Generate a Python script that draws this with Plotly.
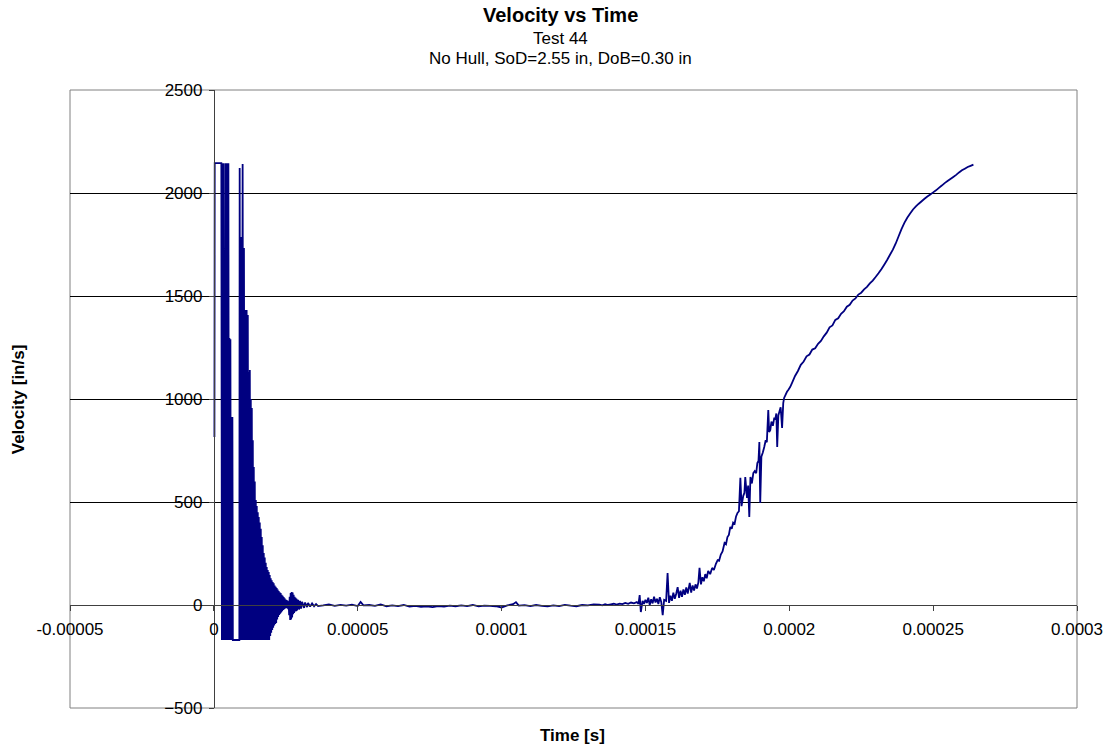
import plotly.graph_objects as go

# --- data (time in microseconds, velocity in in/s) ---
start_t_us = [0.2, 0.3, 2.6]
start_vel = [815, 2145, 2145]

# ringing: local peaks and troughs of the saturated / decaying signal
peak_t_us = [2.98, 3.32, 3.67, 4.02, 4.36, 4.71, 5.05, 5.4, 5.75, 6.09, 6.44,
             8.97, 9.49, 10.0, 10.46, 10.94, 11.39, 11.8, 12.15, 12.5, 12.84,
             13.19, 13.54, 13.88, 14.23, 14.58, 14.92, 15.27, 15.61, 15.96, 16.31,
             16.65, 17.0, 17.34, 17.69, 18.04, 18.38, 18.73, 19.08, 19.42, 19.77,
             20.11, 20.46, 20.81, 21.15, 21.5, 21.85, 22.19, 22.54, 22.88, 23.23,
             23.58, 23.92, 24.27, 24.61, 24.96, 25.31, 25.65, 26.0, 26.35, 26.69,
             27.04, 27.38, 27.73, 28.08, 28.42, 28.77, 29.29, 29.98, 30.67, 31.71,
             32.75, 34.14, 35.52]
peak_vel = [2145, 2145, 1700, 2145, 2145, 2145, 2145, 1296, 1290, 913, 913,
            2121, 1786, 2141, 1733, 1432, 1432, 1408, 1131, 1141, 1000,
            956, 800, 670, 600, 510, 480, 450, 427, 400, 370,
            330, 290, 252, 230, 205, 185, 170, 160, 145, 130,
            120, 112, 105, 95, 88, 83, 75, 68, 62, 58,
            50, 45, 39, 32, 27, 24, 20, 15, 40, 58,
            63, 60, 50, 40, 35, 30, 25, 20, 15, 12,
            10, 8, 5]

trough_t_us = [2.8, 3.15, 3.5, 3.84, 4.19, 4.54, 4.88, 5.23, 5.57, 5.92, 6.27, 6.6,
               8.86, 9.21, 9.73, 10.25, 10.7, 11.15, 11.63, 11.98, 12.32, 12.67,
               13.02, 13.36, 13.71, 14.06, 14.4, 14.75, 15.09, 15.44, 15.79, 16.13,
               16.48, 16.83, 17.17, 17.52, 17.86, 18.21, 18.56, 18.9, 19.25, 19.6,
               19.94, 20.29, 20.63, 20.98, 21.33, 21.67, 22.02, 22.36, 22.71, 23.06,
               23.4, 23.75, 24.1, 24.44, 24.79, 25.13, 25.48, 25.83, 26.17, 26.52,
               26.86, 27.21, 27.56, 27.9, 28.25, 28.6, 28.94, 29.63, 30.33, 31.37,
               32.4, 33.44, 34.83, 36.21]
trough_vel = [-170, -170, -170, -170, -170, -170, -170, -170, -170, -170, -170, -170,
              -170, -170, -170, -170, -170, -170, -170, -170, -170, -170,
              -170, -170, -170, -170, -170, -170, -170, -170, -170, -170,
              -170, -170, -170, -170, -170, -170, -170, -170, -170, -150,
              -135, -121, -110, -100, -92, -87, -70, -58, -49, -42,
              -36, -30, -24, -20, -17, -15, -15, -20, -50, -73,
              -70, -60, -45, -39, -32, -30, -26, -22, -18, -14,
              -10, -8, -6, -5]

# quiet stretch
quiet_t_us = [38, 40, 42, 44, 46, 48, 50, 51, 52, 54, 56, 58, 60, 62, 64, 66, 68,
              70, 72, 74, 76, 78, 80, 82, 84, 86, 88, 90, 92, 94, 96, 98, 100, 102,
              104, 105, 106, 108, 110, 112, 114, 116, 118, 120, 122, 124, 126, 128,
              130, 132]
quiet_vel = [-2, 3, -4, 1, -3, 2, -5, 15, -2, 0, -4, 3, -6, -2, -5, 0, -8,
             -4, -9, -6, -10, -5, -8, -3, -6, -2, -5, 0, -7, -3, -4, -6, -12, -2,
             4, 14, -3, -1, -5, 0, -4, -7, -2, -5, 1, -3, -6, 0,
             -2, 3]

# noisy start of the acceleration phase
noisy_t_us = [134, 135, 136, 137, 138, 139, 140, 141, 142, 143, 144, 145, 146, 147,
              147.6, 148, 148.4, 149, 149.5, 150, 150.5, 151, 151.5, 152, 152.5,
              153, 153.5, 154, 154.5, 155, 155.5, 156, 156.5, 157.2, 157.7, 158.2,
              158.7, 159.2, 159.7, 160.2, 160.7, 161.2, 161.7, 162.2, 162.7, 163.2,
              163.7, 164.2, 164.7, 165.4, 165.9, 166.4, 166.9, 167.4, 167.9, 168.4,
              168.8, 169.3, 169.8, 170.3, 170.8, 171.3, 171.8, 172.5, 173.2, 173.8,
              174.5, 175.1, 175.6, 176.2, 176.8, 177.5, 178, 178.5, 179, 179.5,
              180, 180.5, 181, 181.5, 182, 182.5, 183, 183.4, 184, 184.4, 184.7,
              185.3, 185.7, 186.1, 186.5, 187, 187.5, 188, 188.5, 188.9, 189.3,
              189.6, 189.9, 190.3, 190.8, 191.3, 191.8, 192.2, 192.7, 193, 193.4,
              193.8, 194.3, 194.8, 195.1, 195.5, 195.8, 196.2, 196.6, 197, 197.5,
              197.9, 198.2, 198.7, 199.2, 199.7]
noisy_vel = [2, -2, 4, 0, 3, 6, 2, 7, 4, 10, 6, 12, 8, 14,
             5, 48, -34, 20, 5, 25, 10, 35, 0, 28, 8,
             40, 12, 30, 5, 38, 15, -49, 25, 20, 155, 10,
             45, 20, 60, 30, 55, 87, 35, 70, 40, 75,
             50, 85, 55, 107, 60, 95, 70, 100, 80, 110,
             180, 100, 135, 115, 150, 130, 165, 150, 180, 170,
             200, 218, 215, 245, 260, 301, 295, 330, 340, 379,
             370, 400, 395, 430, 447, 455, 617, 480, 530, 544, 621,
             520, 580, 427, 621, 590, 640, 650, 640, 689, 700,
             791, 495, 720, 740, 767, 800, 790, 947, 840, 850,
             890, 870, 910, 900, 930, 767, 920, 940, 960, 859,
             980, 1005, 1020, 1035, 1045]

# smoother late acceleration
smooth_t_us = [200.3, 201, 202, 203, 204, 205, 206, 207, 208, 209, 210, 211, 212,
               213, 214, 215, 216, 217, 218, 219, 220, 221, 222, 223, 224, 225,
               226, 227, 228, 229, 230, 231, 232, 233, 234, 235, 236, 237, 238,
               239, 240, 241, 242, 243, 244, 245, 246, 247, 248, 249, 250, 251,
               252, 253, 254, 255, 256, 257, 258, 259, 260, 261, 262, 263, 264]
smooth_vel = [1058, 1080, 1112, 1136, 1166, 1182, 1207, 1216, 1240, 1246, 1268, 1282,
              1304, 1322, 1348, 1357, 1384, 1392, 1414, 1426, 1448, 1457, 1478, 1488,
              1507, 1516, 1532, 1544, 1561, 1575, 1592, 1610, 1630, 1652, 1675, 1700,
              1725, 1755, 1790, 1825, 1855, 1880, 1900, 1920, 1935, 1948, 1960, 1972,
              1983, 1993, 2003, 2013, 2025, 2036, 2048, 2058, 2068, 2078, 2088, 2100,
              2110, 2118, 2126, 2132, 2138]

x_tickvals = [-0.00005, 0, 0.00005, 0.0001, 0.00015, 0.0002, 0.00025, 0.0003]
x_ticktext = ["-0.00005", "0", "0.00005", "0.0001", "0.00015", "0.0002", "0.00025", "0.0003"]
y_tickvals = [-500, 0, 500, 1000, 1500, 2000, 2500]

# merge all pieces into one time-ordered series
pairs = (list(zip(start_t_us, start_vel)) + list(zip(peak_t_us, peak_vel))
         + list(zip(trough_t_us, trough_vel)) + list(zip(quiet_t_us, quiet_vel))
         + list(zip(noisy_t_us, noisy_vel)) + list(zip(smooth_t_us, smooth_vel)))
pairs.sort(key=lambda p: p[0])
time_s = [p[0] * 1e-6 for p in pairs]
velocity = [p[1] for p in pairs]

FONT = "Arial, Liberation Sans, sans-serif"
NAVY = "#000080"

fig = go.Figure()
fig.add_trace(go.Scatter(
    x=time_s, y=velocity, mode="lines",
    line=dict(color=NAVY, width=1.8, simplify=False),
    showlegend=False, hoverinfo="skip"
))

# plot area border
fig.add_shape(type="rect", xref="paper", yref="paper", x0=0, y0=0, x1=1, y1=1,
              line=dict(color="#808080", width=1), layer="below")

fig.update_layout(
    width=1115, height=751,
    margin=dict(l=70, r=34, t=90, b=43),
    paper_bgcolor="white", plot_bgcolor="white",
    font=dict(family=FONT, size=17, color="black"),
    xaxis=dict(
        range=[-0.00005, 0.0003], tickvals=x_tickvals, ticktext=x_ticktext,
        showgrid=False, zeroline=False,
        showline=True, linecolor="#404040", linewidth=1,
        ticks="outside", ticklen=5, tickcolor="#404040",
        anchor="free", position=1 / 6, ticklabelstandoff=4,
        tickfont=dict(size=17),
    ),
    yaxis=dict(
        range=[-500, 2500], tickvals=y_tickvals,
        showgrid=True, gridcolor="black", gridwidth=1, zeroline=False,
        showline=True, linecolor="#404040", linewidth=1,
        ticks="outside", ticklen=5, tickcolor="#404040",
        anchor="free", position=1 / 7, ticklabelstandoff=3,
        tickfont=dict(size=17),
    ),
    annotations=[
        dict(text="<b>Velocity vs Time</b>", xref="paper", yref="paper",
             x=0.4866, y=1.1214, xanchor="center", yanchor="middle",
             showarrow=False, font=dict(size=20)),
        dict(text="Test 44", xref="paper", yref="paper",
             x=0.4866, y=1.0841, xanchor="center", yanchor="middle",
             showarrow=False, font=dict(size=17)),
        dict(text="No Hull, SoD=2.55 in, DoB=0.30 in", xref="paper", yref="paper",
             x=0.4866, y=1.0502, xanchor="center", yanchor="middle",
             showarrow=False, font=dict(size=17)),
        dict(text="<b>Time [s]</b>", xref="paper", yref="paper",
             x=0.4995, y=-0.0453, xanchor="center", yanchor="middle",
             showarrow=False, font=dict(size=17)),
        dict(text="<b>Velocity [in/s]</b>", xref="paper", yref="paper",
             x=-0.0514, y=0.5, xanchor="center", yanchor="middle",
             showarrow=False, textangle=-90, font=dict(size=17)),
    ],
)

# drop the default 8px page margin so the figure sits flush in the window
fig.write_html("out.html", config={"displayModeBar": False},
               post_script="document.body.style.margin='0';")
